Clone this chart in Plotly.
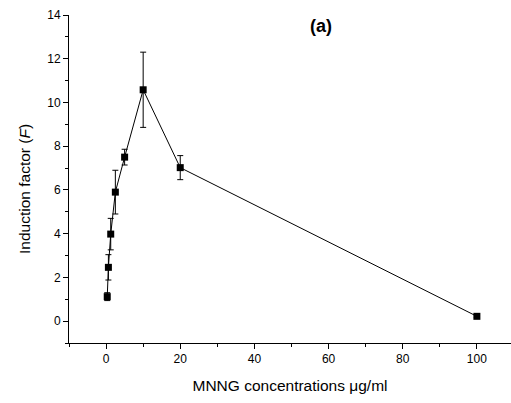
import plotly.graph_objects as go

conc = [0.3125, 0.625, 1.25, 2.5, 5, 10, 20, 100]
factor = [1.12, 2.46, 3.98, 5.9, 7.5, 10.58, 7.02, 0.22]
err = [0.18, 0.58, 0.72, 1.0, 0.36, 1.72, 0.55, 0.05]

fig = go.Figure()
fig.add_trace(go.Scatter(
    x=conc, y=factor,
    mode='lines+markers',
    line=dict(color='black', width=1),
    marker=dict(symbol='square', size=7, color='black'),
    error_y=dict(type='data', array=err, visible=True,
                 color='black', thickness=1, width=3),
    showlegend=False))

W, H = 511, 403
l, r, t, b = 69, 0, 15, 60
pw, ph = W - l - r, H - t - b

fig.update_layout(
    width=W, height=H,
    margin=dict(l=l, r=r, t=t, b=b, autoexpand=False),
    plot_bgcolor='white', paper_bgcolor='white',
    font=dict(family="Liberation Sans, Arial, sans-serif", size=12, color="black"),
    xaxis=dict(
        range=[-10, 109.2], showgrid=False, zeroline=False, automargin=False,
        showline=True, linecolor='black', linewidth=1,
        ticks='outside', ticklen=5, tickcolor='black',
        tickvals=[0, 20, 40, 60, 80, 100],
        minor=dict(tickvals=[-10, 10, 30, 50, 70, 90], ticks='outside',
                   ticklen=3, tickcolor='black'),
        title=dict(text='MNNG concentrations \u03bcg/ml', font=dict(size=15.5), standoff=14),
    ),
    yaxis=dict(
        range=[-1, 14], showgrid=False, zeroline=False, automargin=False,
        showline=True, linecolor='black', linewidth=1,
        ticks='outside', ticklen=5, tickcolor='black',
        tickvals=[0, 2, 4, 6, 8, 10, 12, 14],
        minor=dict(tickvals=[-1, 1, 3, 5, 7, 9, 11, 13], ticks='outside',
                   ticklen=3, tickcolor='black'),
    ),
    annotations=[
        dict(text='<b>(a)</b>', x=(321 - l) / pw, y=(H - b - 26) / ph,
             xref='paper', yref='paper', xanchor='center', yanchor='middle',
             showarrow=False, font=dict(size=18, color='black')),
        dict(text='Induction factor (<i>F</i>)', textangle=-90,
             x=(24 - l) / pw, y=(H - b - 189) / ph,
             xref='paper', yref='paper', xanchor='center', yanchor='middle',
             showarrow=False, font=dict(size=15.5, color='black')),
    ],
)

# drop the default page margin so the figure sits at the window corner
fig.write_html("out.html", config={'displayModeBar': False},
               post_script="document.body.style.margin='0';")
